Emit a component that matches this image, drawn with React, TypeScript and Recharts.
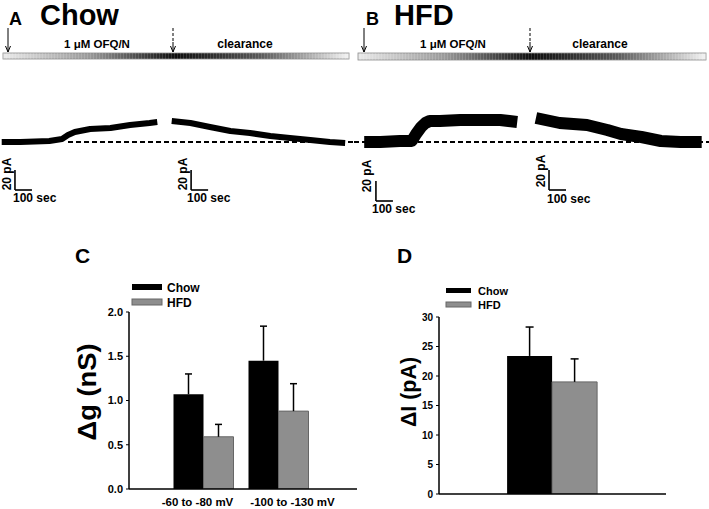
import React from 'react';
import { LineChart, Line, XAxis, YAxis, ReferenceLine, BarChart, Bar } from 'recharts';

const FONT = '"Liberation Sans", Arial, Helvetica, sans-serif';

// ---- Panel A (Chow) holding-current trace: time (s), current change (pA)
const chowOnTime = [10, 120, 290, 365, 400, 440, 530, 650, 765, 880, 925];
const chowOnCurrent = [0, 0, 1, 3, 7, 10, 13, 14, 17, 19, 20];
const chowOffTime = [1010, 1120, 1235, 1355, 1470, 1590, 1705, 1825, 1940, 2030];
const chowOffCurrent = [21, 19, 15, 11, 9, 6, 4, 2, 0, -1];

// ---- Panel B (HFD) holding-current trace
const hfdOnTime = [60, 155, 270, 340, 365, 395, 420, 445, 505, 625, 740, 860, 960];
const hfdOnCurrent = [0, 0, 1, 1, 8, 15, 19, 21, 21, 22, 22, 22, 20];
const hfdOffTime = [1070, 1210, 1370, 1490, 1570, 1690, 1805, 1920, 2045];
const hfdOffCurrent = [24, 19, 17, 12, 8, 5, 1, 0, 0];

// ---- Panel C: conductance change (nS)
const voltageRanges = ['-60 to -80 mV', '-100 to -130 mV'];
const chowConductance = [1.07, 1.45];
const chowConductanceSem = [0.23, 0.39];
const hfdConductance = [0.59, 0.88];
const hfdConductanceSem = [0.14, 0.31];
const conductanceTicks = [0, 0.5, 1.0, 1.5, 2.0];

// ---- Panel D: current change (pA)
const currentGroups = [''];
const chowCurrent = [23.4];
const chowCurrentSem = [4.9];
const hfdCurrent = [19.0];
const hfdCurrentSem = [3.9];
const currentTicks = [0, 5, 10, 15, 20, 25, 30];

const seriesNames = ['Chow', 'HFD'];

const zip = (ts: number[], vs: number[]) => ts.map((t, i) => ({ t, i: vs[i] }));

const chowOn = zip(chowOnTime, chowOnCurrent);
const chowOff = zip(chowOffTime, chowOffCurrent);
const hfdOn = zip(hfdOnTime, hfdOnCurrent);
const hfdOff = zip(hfdOffTime, hfdOffCurrent);

const cData = voltageRanges.map((r, k) => ({
  range: r,
  chow: chowConductance[k],
  chowErr: chowConductanceSem[k],
  hfd: hfdConductance[k],
  hfdErr: hfdConductanceSem[k],
}));

const dData = currentGroups.map((g, k) => ({
  group: g,
  chow: chowCurrent[k],
  chowErr: chowCurrentSem[k],
  hfd: hfdCurrent[k],
  hfdErr: hfdCurrentSem[k],
}));

const GRAY = '#8e8e8e';
const GRAY_EDGE = '#666';

type TraceProps = {
  on: { t: number; i: number }[];
  off: { t: number; i: number }[];
  width: number;
  baseStart: number;
  bars: { t: number; i: number }[];
};

function Trace({ on, off, width, baseStart, bars }: TraceProps) {
  return (
    <LineChart width={355} height={125} margin={{ top: 0, right: 0, bottom: 0, left: 0 }}>
      <XAxis type="number" dataKey="t" domain={[0, 2088]} hide allowDataOverflow />
      <YAxis type="number" dataKey="i" domain={[-73, 52]} hide allowDataOverflow />
      <ReferenceLine
        segment={[{ x: baseStart, y: 0 }, { x: 2088, y: 0 }]}
        stroke="#000"
        strokeWidth={2}
        strokeDasharray="5 3"
        ifOverflow="visible"
      />
      <Line data={on} dataKey="i" type="linear" stroke="#000" strokeWidth={width} strokeLinejoin="round" dot={false} isAnimationActive={false} />
      <Line data={off} dataKey="i" type="linear" stroke="#000" strokeWidth={width} strokeLinejoin="round" dot={false} isAnimationActive={false} />
      {bars.map((b, k) => (
        <ReferenceLine
          key={'v' + k}
          segment={[{ x: b.t, y: b.i }, { x: b.t, y: b.i + 20 }]}
          stroke="#000"
          strokeWidth={1.6}
          ifOverflow="visible"
        />
      ))}
      {bars.map((b, k) => (
        <ReferenceLine
          key={'h' + k}
          segment={[{ x: b.t, y: b.i }, { x: b.t + 100, y: b.i }]}
          stroke="#000"
          strokeWidth={1.6}
          ifOverflow="visible"
        />
      ))}
    </LineChart>
  );
}

const txt = (extra: React.CSSProperties = {}) => ({ fontFamily: FONT, fontWeight: 700, fill: '#000', ...extra });

function GradientBar({ x, y, w, h, id }: { x: number; y: number; w: number; h: number; id: string }) {
  return (
    <g>
      <rect x={x} y={y} width={w} height={h} fill={`url(#${id})`} stroke="#8a8a8a" strokeWidth={0.8} />
      <rect x={x} y={y} width={w} height={h} fill="url(#stripes)" />
    </g>
  );
}

function Arrow({ x, y1, y2, dashed }: { x: number; y1: number; y2: number; dashed?: boolean }) {
  return (
    <g stroke="#000" strokeWidth={1}>
      {dashed ? (
        <>
          <line x1={x} y1={y1} x2={x} y2={y2 - 10} strokeDasharray="3 2" />
          <line x1={x} y1={y2 - 10} x2={x} y2={y2} />
        </>
      ) : (
        <line x1={x} y1={y1} x2={x} y2={y2} />
      )}
      <path d={`M${x - 2.5},${y2 - 6} L${x},${y2} L${x + 2.5},${y2 - 6}`} fill="none" />
    </g>
  );
}

function Rot({ x, y, children, size }: { x: number; y: number; children: React.ReactNode; size: number }) {
  return (
    <text transform={`translate(${x},${y}) rotate(-90)`} textAnchor="middle" dominantBaseline="central" style={txt({ fontSize: size })}>
      {children}
    </text>
  );
}

const xTickOffsets = [-6, 14];

function CategoryTick(props: any) {
  const { x, y, payload, index } = props;
  return (
    <text x={x + (xTickOffsets[index] || 0)} y={y} dy="0.71em" textAnchor="middle" style={txt({ fontSize: 11.5 })}>
      {payload.value}
    </text>
  );
}

// Upward-only SEM whisker drawn on a stacked segment sitting on top of each bar
function makeWhisker(cap: number) {
  return (props: any) => {
    const { x, y, width, height } = props;
    if (x == null || y == null) return <g />;
    const cx = x + width / 2;
    return (
      <g>
        <line x1={cx} x2={cx} y1={y + height} y2={y} stroke="#000" strokeWidth={1.5} />
        <line x1={cx - cap} x2={cx + cap} y1={y} y2={y} stroke="#000" strokeWidth={1.5} />
      </g>
    );
  };
}

export default function App() {
  return (
    <div style={{ position: 'absolute', left: 0, top: 0, width: 709, height: 509, background: '#fff', overflow: 'hidden' }}>
      <svg width={709} height={509} style={{ position: 'absolute', left: 0, top: 0 }}>
        <defs>
          <linearGradient id="gradA" x1="0" x2="1" y1="0" y2="0">
            <stop offset="0" stopColor="#eaeaea" />
            <stop offset="0.25" stopColor="#9a9a9a" />
            <stop offset="0.5" stopColor="#0d0d0d" />
            <stop offset="0.75" stopColor="#5c5c5c" />
            <stop offset="1" stopColor="#f4f4f4" />
          </linearGradient>
          <pattern id="stripes" width={3} height={10} patternUnits="userSpaceOnUse">
            <rect x={0} y={0} width={1} height={10} fill="#fff" opacity={0.14} />
          </pattern>
        </defs>

        {/* Panel titles */}
        <text x={9} y={25} style={txt({ fontSize: 18 })}>A</text>
        <text x={40} y={25} style={txt({ fontSize: 29 })}>Chow</text>
        <text x={366} y={25} style={txt({ fontSize: 18 })}>B</text>
        <text x={394} y={25} style={txt({ fontSize: 29 })}>HFD</text>

        {/* Application bars */}
        <Arrow x={8} y1={28} y2={52} />
        <Arrow x={173} y1={28} y2={52} dashed />
        <text x={97} y={48} textAnchor="middle" style={txt({ fontSize: 11.5 })}>1 μM OFQ/N</text>
        <text x={245} y={48} textAnchor="middle" style={txt({ fontSize: 12 })}>clearance</text>
        <GradientBar x={3} y={53} w={346} h={6} id="gradA" />

        <Arrow x={364} y1={28} y2={52} />
        <Arrow x={530} y1={28} y2={52} dashed />
        <text x={453} y={48} textAnchor="middle" style={txt({ fontSize: 11.5 })}>1 μM OFQ/N</text>
        <text x={600} y={48} textAnchor="middle" style={txt({ fontSize: 12 })}>clearance</text>
        <GradientBar x={358} y={53} w={348} h={7} id="gradA" />

        {/* Scale-bar labels */}
        <Rot x={7} y={174} size={12}>20 pA</Rot>
        <text x={13} y={202} style={txt({ fontSize: 12 })}>100 sec</text>
        <Rot x={183} y={174} size={12}>20 pA</Rot>
        <text x={187} y={202} style={txt({ fontSize: 12 })}>100 sec</text>
        <Rot x={367} y={176} size={12}>20 pA</Rot>
        <text x={372} y={213} style={txt({ fontSize: 12 })}>100 sec</text>
        <Rot x={541} y={171} size={12}>20 pA</Rot>
        <text x={547} y={203} style={txt({ fontSize: 12 })}>100 sec</text>

        {/* Panel C/D letters */}
        <text x={75} y={263} style={txt({ fontSize: 21 })}>C</text>
        <text x={397} y={263} style={txt({ fontSize: 21 })}>D</text>

        {/* Legend C */}
        <rect x={132} y={284} width={30} height={6} fill="#000" />
        <text x={167} y={292} style={txt({ fontSize: 12 })}>{seriesNames[0]}</text>
        <rect x={132} y={299} width={30} height={6} fill={GRAY} stroke={GRAY_EDGE} strokeWidth={1} />
        <text x={167} y={307} style={txt({ fontSize: 12 })}>{seriesNames[1]}</text>

        {/* Legend D */}
        <rect x={446} y={288} width={25} height={5} fill="#000" />
        <text x={478} y={295} style={txt({ fontSize: 11 })}>{seriesNames[0]}</text>
        <rect x={446} y={302} width={25} height={5} fill={GRAY} stroke={GRAY_EDGE} strokeWidth={1} />
        <text x={478} y={309} style={txt({ fontSize: 11 })}>{seriesNames[1]}</text>

        {/* Y labels */}
        <text transform="translate(87,392) rotate(-90)" textAnchor="middle" dominantBaseline="central" textLength={97} lengthAdjust="spacingAndGlyphs" style={txt({ fontSize: 26 })}>Δg (nS)</text>
        <text transform="translate(408,392) rotate(-90)" textAnchor="middle" dominantBaseline="central" textLength={70} lengthAdjust="spacingAndGlyphs" style={txt({ fontSize: 22 })}>ΔI (pA)</text>
      </svg>

      <div style={{ position: 'absolute', left: 0, top: 90 }}>
        <Trace on={chowOn} off={chowOff} width={6} baseStart={400} bars={[{ t: 88, i: -48 }, { t: 1124, i: -48 }]} />
      </div>
      <div style={{ position: 'absolute', left: 354, top: 90 }}>
        <Trace on={hfdOn} off={hfdOff} width={12} baseStart={0} bars={[{ t: 129, i: -59 }, { t: 1147, i: -48 }]} />
      </div>

      <div style={{ position: 'absolute', left: 60, top: 300 }}>
        <BarChart width={310} height={207} data={cData} margin={{ top: 12, right: 13, bottom: 0, left: 0 }} barCategoryGap="10%" barGap={0}>
          <XAxis
            dataKey="range"
            padding={{ left: 37, right: 41 }}
            tickLine={false}
            axisLine={{ stroke: '#000', strokeWidth: 1.5 }}
            height={18}
            tickMargin={3}
            interval={0}
            tick={<CategoryTick />}
          />
          <YAxis
            width={69}
            domain={[0, 2]}
            ticks={conductanceTicks}
            tickFormatter={(v: number) => v.toFixed(1)}
            tickSize={3}
            tickMargin={3}
            axisLine={{ stroke: '#000', strokeWidth: 1.5 }}
            tickLine={{ stroke: '#000' }}
            tick={{ fontSize: 11, fontWeight: 700, fill: '#000', fontFamily: FONT }}
            allowDataOverflow
          />
          <Bar dataKey="chow" stackId="chow" fill="#000" isAnimationActive={false} />
          <Bar dataKey="chowErr" stackId="chow" fill="none" shape={makeWhisker(3.5)} isAnimationActive={false} />
          <Bar dataKey="hfd" stackId="hfd" fill={GRAY} stroke={GRAY_EDGE} strokeWidth={1} isAnimationActive={false} />
          <Bar dataKey="hfdErr" stackId="hfd" fill="none" shape={makeWhisker(3.5)} isAnimationActive={false} />
        </BarChart>
      </div>

      <div style={{ position: 'absolute', left: 400, top: 305 }}>
        <BarChart width={280} height={199} data={dData} margin={{ top: 12, right: 14, bottom: 0, left: 0 }} barCategoryGap="30%" barGap={0}>
          <XAxis dataKey="group" tick={false} tickLine={false} height={10} axisLine={{ stroke: '#000', strokeWidth: 1.5 }} />
          <YAxis
            width={39}
            domain={[0, 30]}
            ticks={currentTicks}
            tickSize={3}
            tickMargin={3}
            axisLine={{ stroke: '#000', strokeWidth: 1.5 }}
            tickLine={{ stroke: '#000' }}
            tick={{ fontSize: 10, fontWeight: 700, fill: '#000', fontFamily: FONT }}
            allowDataOverflow
          />
          <Bar dataKey="chow" stackId="chow" fill="#000" isAnimationActive={false} />
          <Bar dataKey="chowErr" stackId="chow" fill="none" shape={makeWhisker(4)} isAnimationActive={false} />
          <Bar dataKey="hfd" stackId="hfd" fill={GRAY} stroke={GRAY_EDGE} strokeWidth={1} isAnimationActive={false} />
          <Bar dataKey="hfdErr" stackId="hfd" fill="none" shape={makeWhisker(4)} isAnimationActive={false} />
        </BarChart>
      </div>
    </div>
  );
}
